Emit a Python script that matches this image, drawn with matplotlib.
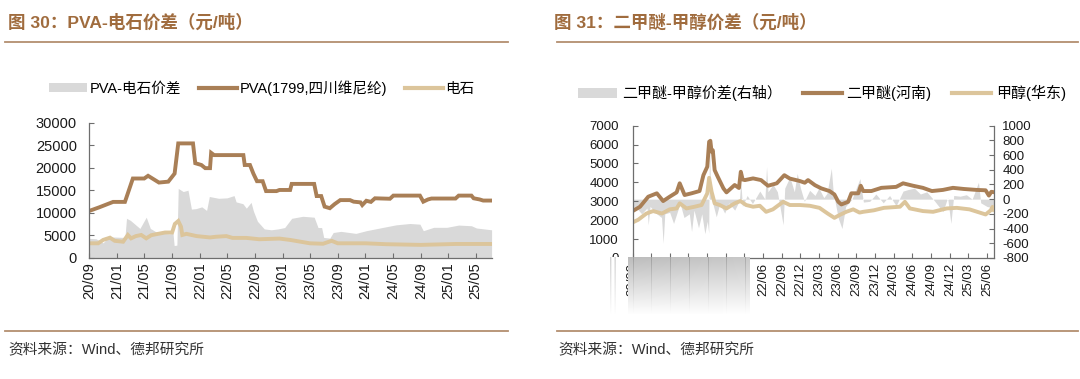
import numpy as np
import pandas as pd
import matplotlib
matplotlib.use("Agg")
import matplotlib.pyplot as plt
import matplotlib.dates as mdates
from matplotlib.lines import Line2D
from matplotlib.patches import Patch

plt.rcParams['font.family'] = ['Liberation Sans', 'Noto Sans CJK SC']
plt.rcParams['axes.unicode_minus'] = False

# ---- 图30 PVA-电石价差 ----
pva_dates = ['2020-09-01', '2020-10-15', '2020-12-15', '2021-02-05', '2021-03-12', '2021-05-01',
             '2021-05-18', '2021-07-05', '2021-08-15', '2021-09-12', '2021-09-28', '2021-12-02',
             '2021-12-12', '2022-01-08', '2022-01-25', '2022-02-15', '2022-02-20', '2022-03-05',
             '2022-07-12', '2022-07-18', '2022-08-10', '2022-08-25', '2022-09-10', '2022-10-05',
             '2022-10-20', '2022-12-05', '2022-12-18', '2023-02-03', '2023-02-10', '2023-05-20',
             '2023-05-31', '2023-06-20', '2023-07-05', '2023-07-28', '2023-08-18', '2023-09-12',
             '2023-10-25', '2023-11-10', '2023-12-10', '2023-12-18', '2024-01-05', '2024-01-25',
             '2024-02-12', '2024-04-18', '2024-05-03', '2024-08-28', '2024-09-12', '2024-10-03',
             '2024-10-18', '2025-02-01', '2025-02-15', '2025-04-12', '2025-04-22', '2025-05-18',
             '2025-06-03', '2025-07-10']
pva_vals = [10400, 11200, 12400, 12400, 17600, 17600,
            18200, 16700, 16900, 18700, 25400, 25400,
            21000, 20600, 19900, 19900, 23300, 22800,
            22800, 20600, 20600, 18700, 17000, 17000,
            14800, 14800, 15050, 15050, 16400, 16400,
            13700, 13700, 11350, 11000, 11900, 12800,
            12800, 12450, 12300, 11700, 12650, 12400,
            13200, 13100, 13800, 13800, 12450, 12950,
            13150, 13150, 13800, 13800, 13200, 12950,
            12700, 12700]

cs_dates = ['2020-09-01', '2020-10-10', '2020-11-01', '2020-12-01', '2020-12-22', '2021-01-28',
            '2021-02-18', '2021-03-04', '2021-03-25', '2021-04-18', '2021-05-10', '2021-06-01',
            '2021-07-01', '2021-08-01', '2021-09-01', '2021-09-13', '2021-09-28', '2021-10-10',
            '2021-10-16', '2021-11-03', '2021-12-18', '2022-02-15', '2022-03-12', '2022-04-28',
            '2022-05-25', '2022-07-25', '2022-09-20', '2022-12-18', '2023-02-03', '2023-05-01',
            '2023-06-28', '2023-08-05', '2023-09-01', '2024-01-01', '2024-04-01', '2024-09-01',
            '2025-02-01', '2025-07-10']
cs_vals = [3200, 3200, 3950, 4450, 3750, 3550,
           5050, 4300, 4800, 5050, 4300, 5000,
           5300, 5600, 5600, 7500, 8150, 6900,
           5050, 5300, 4800, 4500, 4650, 4800,
           4400, 4400, 4100, 4250, 3950, 3200,
           3100, 3750, 3200, 3200, 3000, 2850,
           3050, 3050]

pva_spread_dates = ['2020-09-01', '2020-10-01', '2020-11-01', '2020-11-20', '2020-12-15', '2021-02-05',
                    '2021-02-12', '2021-03-01', '2021-04-12', '2021-05-10', '2021-05-28', '2021-06-25',
                    '2021-07-28', '2021-08-20', '2021-09-05', '2021-09-10', '2021-09-22', '2021-09-28',
                    '2021-10-20', '2021-11-10', '2021-11-25', '2021-12-15', '2022-01-10', '2022-01-31',
                    '2022-02-12', '2022-03-25', '2022-05-01', '2022-06-01', '2022-06-10', '2022-07-10',
                    '2022-07-25', '2022-08-15', '2022-08-25', '2022-09-12', '2022-10-12', '2022-11-12',
                    '2022-12-12', '2023-01-10', '2023-02-10', '2023-03-31', '2023-05-20', '2023-06-06',
                    '2023-06-22', '2023-07-01', '2023-07-28', '2023-08-12', '2023-09-15', '2023-11-20',
                    '2024-01-05', '2024-03-20', '2024-05-15', '2024-07-15', '2024-08-28', '2024-09-12',
                    '2024-10-28', '2024-12-25', '2025-02-15', '2025-04-12', '2025-05-04', '2025-07-10']
pva_spread_vals = [4300, 4200, 3300, 4400, 4600, 4500,
                   8750, 8300, 6500, 9000, 6500, 5650,
                   5400, 5300, 5400, 2700, 2800, 15400,
                   14700, 15000, 10800, 10900, 11300, 10500,
                   13600, 13200, 13300, 13800, 12400, 12000,
                   11000, 12300, 10400, 8100, 6400, 6200,
                   6400, 6700, 8750, 9200, 9000, 6700,
                   6700, 4500, 4350, 5600, 5850, 5400,
                   6000, 6750, 7300, 7600, 7450, 6000,
                   6750, 6750, 7250, 7100, 6600, 6200]

left_ticks = ['2020-09-01', '2021-01-01', '2021-05-01', '2021-09-01', '2022-01-01', '2022-05-01',
              '2022-09-01', '2023-01-01', '2023-05-01', '2023-09-01', '2024-01-01', '2024-05-01',
              '2024-09-01', '2025-01-01', '2025-05-01']

# ---- 图31 二甲醚-甲醇价差 ----
dme_dates = ['2020-09-01', '2020-10-07', '2020-11-16', '2020-12-28', '2021-01-28', '2021-03-01',
             '2021-04-04', '2021-04-19', '2021-05-13', '2021-06-16', '2021-07-25', '2021-08-13',
             '2021-09-01', '2021-09-10', '2021-09-16', '2021-09-22', '2021-09-28', '2021-10-07',
             '2021-10-22', '2021-11-19', '2021-12-04', '2022-01-13', '2022-02-03', '2022-02-12',
             '2022-02-21', '2022-03-04', '2022-04-13', '2022-05-22', '2022-06-25', '2022-08-07',
             '2022-09-13', '2022-10-10', '2022-11-28', '2022-12-22', '2023-01-07', '2023-02-10',
             '2023-03-13', '2023-04-22', '2023-05-16', '2023-06-04', '2023-06-19', '2023-07-22',
             '2023-08-07', '2023-09-10', '2023-09-22', '2023-10-04', '2023-11-13', '2024-01-01',
             '2024-03-13', '2024-04-16', '2024-06-04', '2024-07-22', '2024-09-04', '2024-10-28',
             '2024-12-16', '2025-02-07', '2025-04-10', '2025-05-25', '2025-06-10', '2025-06-22',
             '2025-07-04']
dme_vals = [2480, 2710, 3240, 3420, 3010, 3240,
            3470, 3950, 3330, 3420, 3540, 4380,
            4830, 6150, 6200, 5620, 5700, 4650,
            4300, 3680, 3470, 3860, 3700, 4560,
            4150, 4120, 4210, 4120, 3820, 3950,
            4380, 4200, 4070, 3980, 4120, 3850,
            3680, 3540, 3360, 2970, 2830, 2970,
            3420, 3420, 3820, 3540, 3540, 3710,
            3760, 3950, 3820, 3710, 3540, 3600,
            3710, 3650, 3600, 3580, 3300, 3500,
            3480]

meoh_dates = ['2020-09-01', '2020-09-28', '2020-11-07', '2020-12-10', '2021-01-22', '2021-03-01',
              '2021-04-04', '2021-04-19', '2021-05-22', '2021-07-01', '2021-08-04', '2021-09-01',
              '2021-09-10', '2021-09-22', '2021-10-07', '2021-11-01', '2021-12-04', '2022-01-13',
              '2022-02-10', '2022-03-10', '2022-04-13', '2022-05-16', '2022-06-16', '2022-07-19',
              '2022-09-07', '2022-10-10', '2022-11-28', '2023-01-16', '2023-03-04', '2023-04-13',
              '2023-05-16', '2023-06-10', '2023-07-13', '2023-08-16', '2023-09-16', '2023-10-04',
              '2023-11-25', '2024-01-13', '2024-04-01', '2024-04-25', '2024-05-19', '2024-07-22',
              '2024-09-10', '2024-11-16', '2025-01-04', '2025-03-07', '2025-05-25', '2025-06-19',
              '2025-06-28', '2025-07-04']
meoh_vals = [1880, 2020, 2350, 2480, 2350, 2570,
             2620, 2890, 2620, 2710, 2800, 3420,
             4240, 3510, 2890, 2800, 2620, 2890,
             3010, 2800, 2710, 2760, 2440, 2570,
             2970, 2800, 2800, 2760, 2650, 2350,
             2120, 2270, 2440, 2570, 2400, 2440,
             2520, 2650, 2710, 2970, 2620, 2480,
             2440, 2620, 2650, 2570, 2300, 2520,
             2700, 2550]

dme_spread_dates = ['2020-09-01', '2020-09-20', '2020-10-15', '2020-11-10', '2020-11-16', '2020-11-25',
                    '2020-12-28', '2021-01-20', '2021-01-28', '2021-02-05', '2021-03-01', '2021-03-20',
                    '2021-04-10', '2021-04-20', '2021-05-10', '2021-06-05', '2021-06-16', '2021-06-28',
                    '2021-07-20', '2021-08-05', '2021-08-20', '2021-09-01', '2021-09-08', '2021-09-12',
                    '2021-09-16', '2021-09-28', '2021-10-15', '2021-11-01', '2021-11-25', '2021-12-15',
                    '2022-01-13', '2022-02-05', '2022-02-12', '2022-02-20', '2022-03-15', '2022-04-10',
                    '2022-05-16', '2022-06-10', '2022-06-18', '2022-06-25', '2022-07-20', '2022-08-10',
                    '2022-09-07', '2022-09-15', '2022-10-10', '2022-11-01', '2022-11-15', '2022-12-01',
                    '2022-12-20', '2023-01-15', '2023-02-10', '2023-03-01', '2023-03-25', '2023-04-10',
                    '2023-05-01', '2023-05-10', '2023-06-04', '2023-06-22', '2023-07-10', '2023-08-10',
                    '2023-09-18', '2023-10-05', '2023-11-05', '2023-12-05', '2024-01-10', '2024-02-10',
                    '2024-03-13', '2024-04-16', '2024-05-10', '2024-06-10', '2024-07-10', '2024-08-10',
                    '2024-09-10', '2024-10-28', '2024-11-20', '2024-12-06', '2024-12-20', '2025-01-20',
                    '2025-02-20', '2025-03-20', '2025-04-20', '2025-05-01', '2025-06-01', '2025-07-04']
dme_spread_vals = [-150, -120, -200, -120, -350, -100,
                   -200, -250, -600, -200, -180, -330,
                   -150, -50, -250, -200, -440, -150,
                   -390, -200, -470, -300, -460, 900,
                   200, -60, -240, -60, -190, -50,
                   -150, -20, 240, -100, 50, -60,
                   110, 0, 440, 100, 200, 100,
                   -350, 150, 300, 100, 350, 150,
                   -30, 120, 50, 150, 20, 80,
                   420, 100, -260, -400, -100, 0,
                   280, -40, -30, 70, -50, 50,
                   -90, 110, 130, 150, 70, 100,
                   0, -170, 20, -330, 50, 40,
                   60, 0, 230, -50, -100, -120]

right_ticks = ['2020-09-01', '2020-12-01', '2021-03-01', '2021-06-01', '2021-09-01', '2021-12-01',
               '2022-03-01', '2022-06-01', '2022-09-01', '2022-12-01', '2023-03-01', '2023-06-01',
               '2023-09-01', '2023-12-01', '2024-03-01', '2024-06-01', '2024-09-01', '2024-12-01',
               '2025-03-01', '2025-06-01']

C_DARK = '#a97f56'
C_LIGHT = '#dcc59b'
C_GRAY = '#d9d9d9'
C_TITLE = '#a06c3e'
C_RULE = '#b38f70'
W, H = 1080, 379


def fx(px):
    return px / W


def fy(py):
    return 1 - py / H


def style_axis(ax, fs, pad):
    for s in ['top', 'right']:
        ax.spines[s].set_visible(False)
    for s in ['left', 'bottom']:
        ax.spines[s].set_color('#6e6e6e')
        ax.spines[s].set_linewidth(0.9)
    ax.tick_params(direction='in', length=3.5, width=0.8, color='#6e6e6e', labelsize=fs,
                   labelcolor='#1a1a1a')
    ax.tick_params(axis='y', pad=pad)


fig = plt.figure(figsize=(W / 100, H / 100), dpi=100)

# titles and rules
fig.text(fx(8), fy(22), '图 30：PVA-电石价差（元/吨）', fontsize=12.6, fontweight='bold',
         color=C_TITLE, va='center', ha='left')
fig.text(fx(554), fy(22), '图 31：二甲醚-甲醇价差（元/吨）', fontsize=12.6, fontweight='bold',
         color=C_TITLE, va='center', ha='left')
for x0, x1 in [(5, 508), (557, 1078)]:
    for yy in [42, 331]:
        fig.add_artist(Line2D([fx(x0), fx(x1)], [fy(yy), fy(yy)], color=C_RULE, lw=1.3))
fig.text(fx(8), fy(350), '资料来源：Wind、德邦研究所', fontsize=10.6, color='#333333',
         va='center', ha='left')
fig.text(fx(558), fy(350), '资料来源：Wind、德邦研究所', fontsize=10.6, color='#333333',
         va='center', ha='left')

# ---- left chart ----
ax1 = fig.add_axes([fx(89.3), fy(257.7), fx(491.6 - 89.3), (257.7 - 122.7) / H])
ax1.fill_between(pd.to_datetime(pva_spread_dates), pva_spread_vals, 0, color=C_GRAY, lw=0)
ax1.plot(pd.to_datetime(cs_dates), cs_vals, color=C_LIGHT, lw=2.8, solid_joinstyle='miter')
ax1.plot(pd.to_datetime(pva_dates), pva_vals, color=C_DARK, lw=2.8, solid_joinstyle='miter')
ax1.set_xlim(pd.Timestamp('2020-09-01'), pd.Timestamp('2025-07-10'))
ax1.set_ylim(0, 30000)
ax1.set_yticks(np.arange(0, 30001, 5000))
ax1.set_xticks(pd.to_datetime(left_ticks))
ax1.xaxis.set_major_formatter(mdates.DateFormatter('%y/%m'))
style_axis(ax1, 10.5, 9)
ax1.tick_params(axis='x', labelrotation=90, labelsize=10.5)

leg1 = [Patch(facecolor=C_GRAY, edgecolor='none', label='PVA-电石价差'),
        Line2D([], [], color=C_DARK, lw=3, label='PVA(1799,四川维尼纶)'),
        Line2D([], [], color=C_LIGHT, lw=3, label='电石')]
fig.legend(handles=leg1, loc='center', bbox_to_anchor=(fx(262), fy(88)), ncol=3, frameon=False,
           fontsize=10.5, handlelength=2.6, handleheight=0.6, columnspacing=1.2, handletextpad=0.2)

# ---- right chart ----
ax2 = fig.add_axes([fx(632.7), fy(257.9), fx(994 - 632.7), (257.9 - 125.7) / H])
ax3 = ax2.twinx()
ax3.fill_between(pd.to_datetime(dme_spread_dates), dme_spread_vals, 0, color=C_GRAY, lw=0)
ax2.set_zorder(ax3.get_zorder() + 1)
ax2.patch.set_visible(False)
ax2.plot(pd.to_datetime(meoh_dates), meoh_vals, color=C_LIGHT, lw=2.8)
ax2.plot(pd.to_datetime(dme_dates), dme_vals, color=C_DARK, lw=2.8)
ax2.set_xlim(pd.Timestamp('2020-09-01'), pd.Timestamp('2025-07-05'))
ax2.set_ylim(0, 7000)
ax2.set_yticks(np.arange(0, 7001, 1000))
ax3.set_ylim(-800, 1000)
ax3.set_yticks(np.arange(-800, 1001, 200))
ax2.set_xticks(pd.to_datetime(right_ticks))
ax2.xaxis.set_major_formatter(mdates.DateFormatter('%y/%m'))
style_axis(ax2, 9.5, 10)
ax2.tick_params(axis='x', labelrotation=90, labelsize=9.5)
for s in ['top', 'left', 'bottom']:
    ax3.spines[s].set_visible(False)
ax3.spines['right'].set_color('#6e6e6e')
ax3.spines['right'].set_linewidth(0.9)
ax3.tick_params(direction='in', length=3.5, width=0.8, color='#6e6e6e', labelsize=9.5,
                labelcolor='#1a1a1a', pad=6)

leg2 = [Patch(facecolor=C_GRAY, edgecolor='none', label='二甲醚-甲醇价差(右轴）'),
        Line2D([], [], color=C_DARK, lw=3, label='二甲醚(河南)'),
        Line2D([], [], color=C_LIGHT, lw=3, label='甲醇(华东)')]
fig.legend(handles=leg2, loc='center', bbox_to_anchor=(fx(822), fy(93)), ncol=3, frameon=False,
           fontsize=10.8, handlelength=2.6, handleheight=0.6, columnspacing=1.4, handletextpad=0.3)

# grey smear over the first x labels of the right chart (as in the source image)
bh, bw = 58, 122
ramp = np.linspace(0.74, 1.0, bh)[:, None] * np.ones((1, bw))
ramp = ramp + np.linspace(0.0, 0.06, bw)[None, :] * (1 - ramp) * 3
for k in range(7):
    c = int(round(4.7 + 18.7 * k))
    if c < bw:
        ramp[:, c] -= 0.12 * (1 - np.linspace(0, 1, bh))
ramp = np.clip(ramp, 0, 1)
smear = fig.add_axes([fx(628), fy(315), fx(bw), bh / H], zorder=10)
smear.imshow(np.dstack([ramp] * 3), aspect='auto', interpolation='bilinear')
smear.axis('off')

sh, sw = 58, 10
strip = np.ones((sh, sw))
fade = np.linspace(0.78, 1.0, sh)
strip[:, 2] = fade
strip[:, 6] = fade
strip_ax = fig.add_axes([fx(608), fy(315), fx(sw), sh / H], zorder=10)
strip_ax.imshow(np.dstack([strip] * 3), aspect='auto', interpolation='bilinear')
strip_ax.axis('off')

fig.savefig('out.png', dpi=100)
